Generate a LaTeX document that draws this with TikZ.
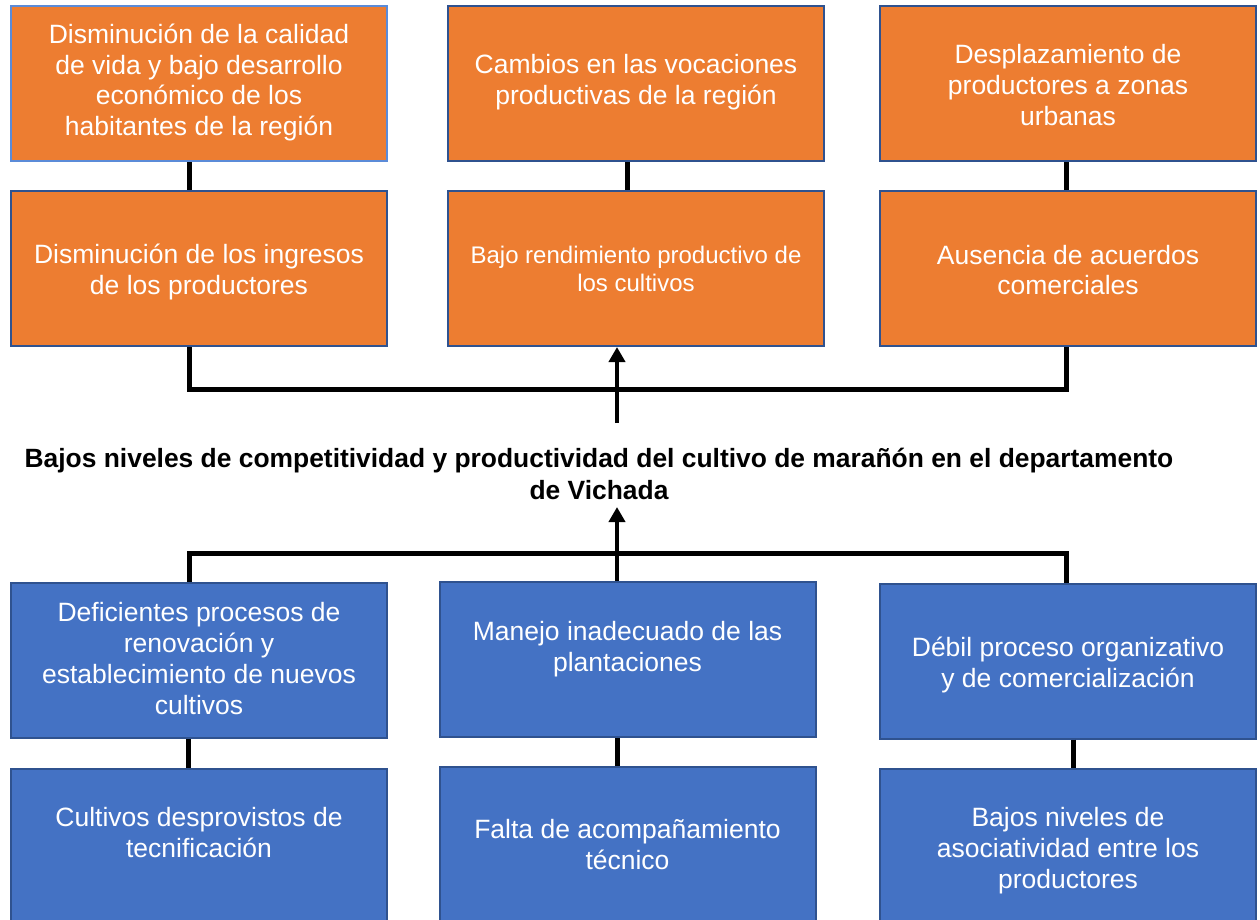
\documentclass[tikz,border=0pt]{standalone}
\usepackage{fontspec}
\setmainfont{Liberation Sans}
\usetikzlibrary{arrows.meta}
\definecolor{orfill}{HTML}{ED7D31}
\definecolor{blfill}{HTML}{4472C4}
\definecolor{bord}{HTML}{2F528F}
\definecolor{bordlight}{HTML}{5B8BD8}
\begin{document}
\begin{tikzpicture}[x=1pt,y=-1pt,
  box/.style={rectangle, draw=bord, line width=2pt, minimum width=376pt, minimum height=155pt, inner sep=0pt},
  obox/.style={box, fill=orfill},
  bbox/.style={box, fill=blfill},
  txt/.style={inner sep=0pt, align=center, text=white, font=\fontsize{26.5}{30.8}\selectfont},
  conn/.style={line width=5pt},
  arr/.style={line width=4pt, -{Triangle[width=16pt,length=15pt]}},
  titlestyle/.style={inner sep=7pt, align=center, font=\bfseries\fontsize{26.4}{32}\selectfont}]
\useasboundingbox (0,0) rectangle (1260,919);
\clip (0,0) rectangle (1260,919);
% top rows (effects)
\node[obox, draw=bordlight] (b1) at (199,83.5) {};
\node[obox] (b2) at (636,83.5) {};
\node[obox] (b3) at (1068,83.5) {};
\node[obox] (b4) at (199,268.5) {};
\node[obox] (b5) at (636,268.5) {};
\node[obox] (b6) at (1068,268.5) {};
\node[txt] (t1) at ([yshift=1pt]b1.center) {Disminución de la calidad\\de vida y bajo desarrollo\\económico de los\\habitantes de la región};
\node[txt] (t2) at ([yshift=1pt]b2.center) {Cambios en las vocaciones\\productivas de la región};
\node[txt] (t3) at ([yshift=-1.5pt]b3.center) {Desplazamiento de\\productores a zonas\\urbanas};
\node[txt] (t4) at ([yshift=-3.5pt]b4.center) {Disminución de los ingresos\\de los productores};
\node[txt, font=\fontsize{24}{28}\selectfont] (t5) at (b5.center) {Bajo rendimiento productivo de\\los cultivos};
\node[txt] (t6) at ([yshift=-1.5pt]b6.center) {Ausencia de acuerdos\\comerciales};
% central problem
\node[titlestyle] (title) at (599,474) {Bajos niveles de competitividad y productividad del cultivo de marañón en el departamento\\de Vichada};
% bottom rows (causes)
\node[bbox] (b7) at (199,660.5) {};
\node[bbox] (b8) at (627.5,659.5) {};
\node[bbox] (b9) at (1068,661) {};
\node[bbox] (b10) at (199,846.5) {};
\node[bbox] (b11) at (627.5,844.5) {};
\node[bbox] (b12) at (1068,846.5) {};
\node[txt] (t7) at ([yshift=2pt]b7.center) {Deficientes procesos de\\renovación y\\establecimiento de nuevos\\cultivos};
\node[txt] (t8) at ([yshift=10pt]b8.center) {Manejo inadecuado de las\\plantaciones};
\node[txt] (t9) at ([yshift=-4pt]b9.center) {Débil proceso organizativo\\y de comercialización};
\node[txt] (t10) at ([yshift=14pt]b10.center) {Cultivos desprovistos de\\tecnificación};
\node[txt] (t11) at (b11.center) {Falta de acompañamiento\\técnico};
\node[txt] (t12) at ([yshift=-4pt]b12.center) {Bajos niveles de\\asociatividad entre los\\productores};
% connector positions
\coordinate (v1) at (189,0);
\coordinate (v2) at (627,0);
\coordinate (v3) at (1066,0);
\coordinate (v4) at (188,0);
\coordinate (v5) at (617,0);
\coordinate (v6) at (1073,0);
\coordinate (j1) at (189,389);
\coordinate (j2) at (1066,389);
\coordinate (k1) at (189,553);
\coordinate (k2) at (1066,553);
\coordinate (a1) at (617,423);
% connectors
\draw[conn] (b1.south -| v1) -- (b4.north -| v1);
\draw[conn] (b2.south -| v2) -- (b5.north -| v2);
\draw[conn] (b3.south -| v3) -- (b6.north -| v3);
\draw[conn] (b4.south -| j1) -- (j1) -- (j2) -- (b6.south -| j2);
\draw[arr] (a1) -- (a1 |- b5.south);
\draw[conn] (b7.north -| k1) -- (k1) -- (k2) -- (b9.north -| k2);
\draw[arr] (b8.north -| a1) -- (title.south -| a1);
\draw[conn] (b7.south -| v4) -- (b10.north -| v4);
\draw[conn] (b8.south -| v5) -- (b11.north -| v5);
\draw[conn] (b9.south -| v6) -- (b12.north -| v6);
\end{tikzpicture}
\end{document}
